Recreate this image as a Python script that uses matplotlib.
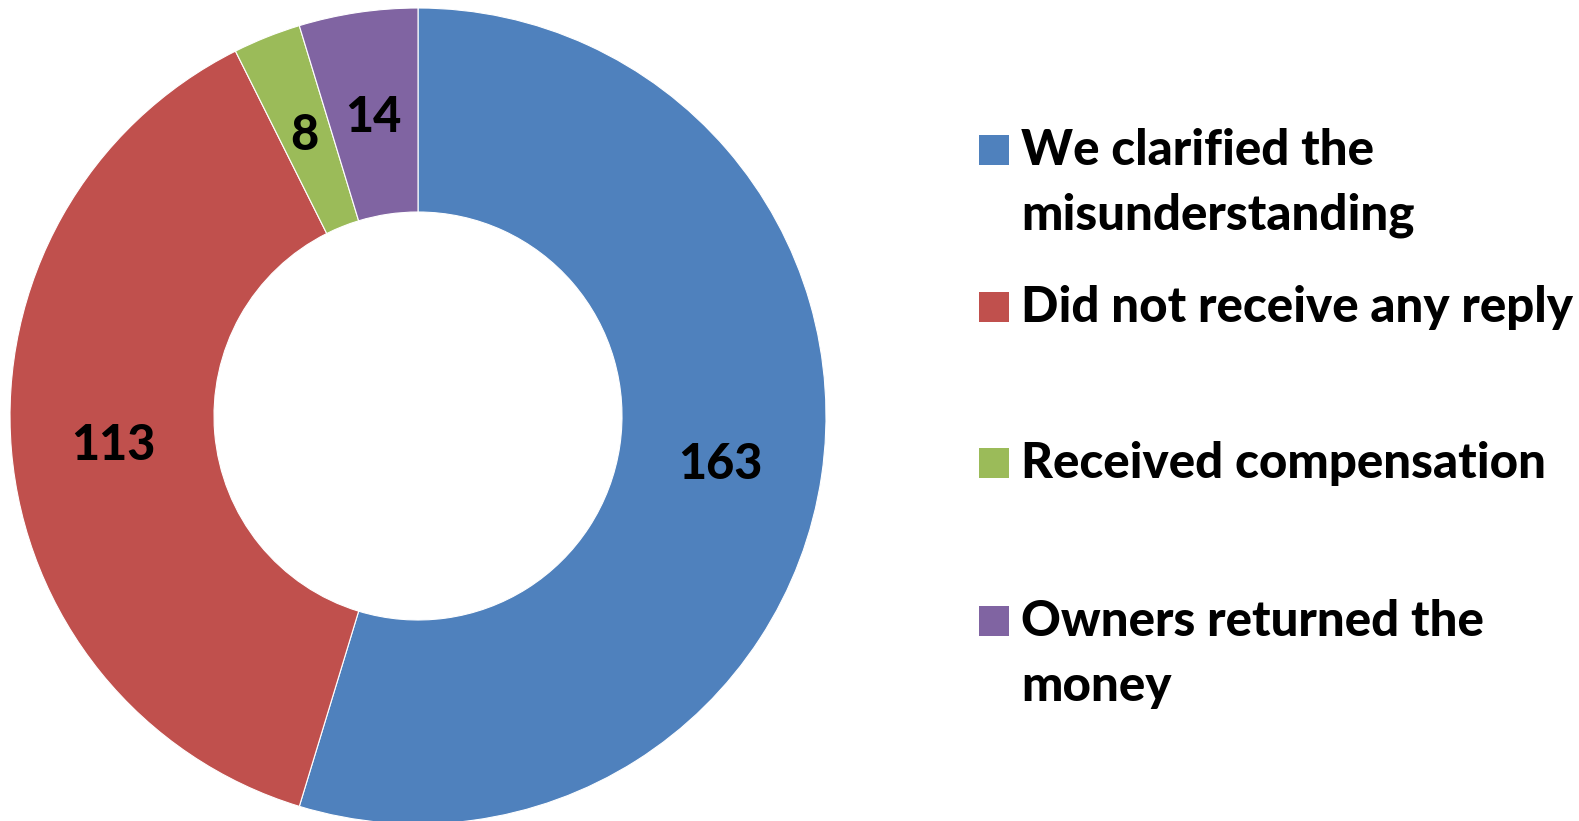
import matplotlib.pyplot as plt
import matplotlib.transforms as mtransforms
from matplotlib.patches import Rectangle

# data
categories = ['We clarified the\nmisunderstanding',
              'Did not receive any reply',
              'Received compensation',
              'Owners returned the\nmoney']
values = [163, 113, 8, 14]
colors = ['#4F81BD', '#C0504D', '#9BBB59', '#8064A2']

font = 'Lato'
weight = 'black'

# create figure
fig = plt.figure(figsize=(15.79, 8.21), dpi=100)
W, H = 1579, 821

# donut axes placed as a square in pixels: centre (418, 416), radius 408
cx, cy, r = 418, 416, 408
ax = fig.add_axes([(cx - r) / W, (H - cy - r) / H, 2 * r / W, 2 * r / H])

total = sum(values)
wedges, texts, autotexts = ax.pie(
    values, colors=colors, startangle=90, counterclock=False,
    autopct=lambda p: '%d' % round(p * total / 100.0),
    pctdistance=0.75,
    wedgeprops=dict(width=0.5, edgecolor='white', linewidth=0.8),
    textprops=dict(fontsize=35, fontweight=weight, family=font, color='black'))
ax.set_xlim(-1, 1)
ax.set_ylim(-1, 1)
ax.axis('off')

# nudge value labels a few pixels down
shift = mtransforms.offset_copy(ax.transData, fig=fig, x=0, y=-4, units='dots')
for t in autotexts:
    t.set_transform(shift)

# legend drawn by hand so each entry gets the same slot height
sq_x = 979
sq = 30
txt_x = 1021
line_gap = 65
centres = [150, 307, 463, 621]
for lab, col, yc in zip(categories, colors, centres):
    fig.add_artist(Rectangle((sq_x / W, (H - yc - sq / 2) / H), sq / W, sq / H,
                             transform=fig.transFigure, facecolor=col, edgecolor='none'))
    base = yc + sq / 2
    for i, line in enumerate(lab.split('\n')):
        fig.text(txt_x / W, (H - base - i * line_gap) / H, line, fontsize=35.5,
                 fontweight=weight, family=font, color='black',
                 ha='left', va='baseline')

# save figure
plt.savefig('out.png', dpi=100)
